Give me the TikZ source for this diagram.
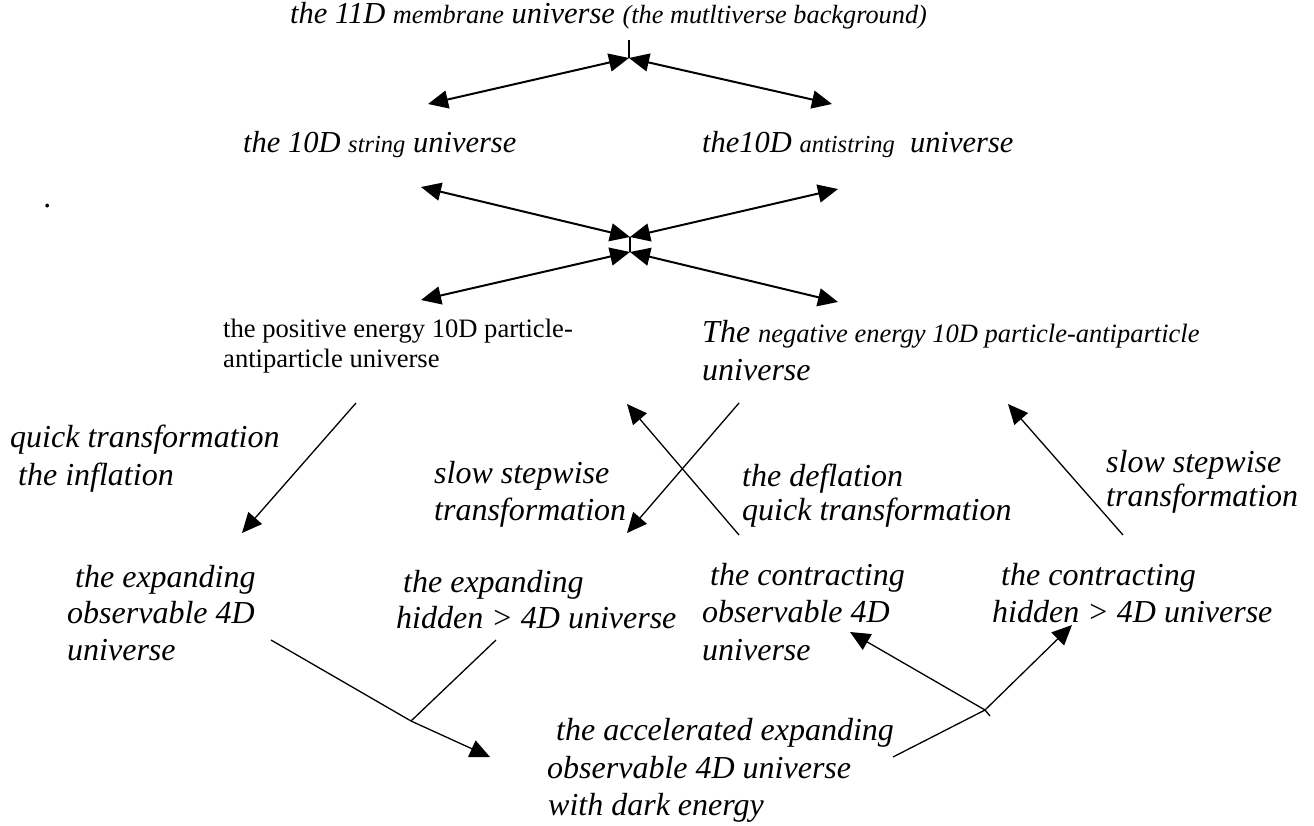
\documentclass[tikz,border=0pt]{standalone}
\usepackage{fontspec}
\setmainfont{Liberation Serif}
\usetikzlibrary{arrows.meta}
\newcommand{\Lg}{\fontsize{30.5}{34}\selectfont}
\newcommand{\Sm}{\fontsize{24.5}{28}\selectfont}
\newcommand{\Tm}{\fontsize{26.3}{30}\selectfont}
\newcommand{\Ng}{\fontsize{26.5}{30}\selectfont}
\begin{document}
\begin{tikzpicture}[x=1pt,y=-1pt,
  lab/.style={anchor=base west,inner sep=0pt,font=\itshape\fontsize{32}{38}\selectfont},
  rlab/.style={anchor=base west,inner sep=0pt,font=\fontsize{26.6}{30}\selectfont},
  tip/.style={-{Triangle[length=20pt,width=18pt]}},
  dbl/.style={{Triangle[length=20pt,width=18pt]}-{Triangle[length=20pt,width=18pt]},line width=2pt},
  arr/.style={tip,line width=1.3pt},
  ln/.style={line width=1.3pt}]
\useasboundingbox (0,0) rectangle (1314,825);
% texts
\node[lab,font=\itshape\Lg] (t11) at (290,23) {the 11D {\Tm membrane} universe {\Tm (the mutltiverse background)}};
\node[lab,font=\itshape\Lg] (tstr) at (243,152) {the 10D {\Sm string} universe};
\node[lab,font=\itshape\Lg] (tast) at (702,152) {the10D {\Sm antistring}\ \ universe};
\node[lab] (dot) at (44,207) {.};
\node[rlab] (pos1) at (223,337) {the positive energy 10D particle-};
\node[rlab] (pos2) at (223,367) {antiparticle universe};
\node[lab] (neg1) at (702,342) {The {\Ng negative energy 10D particle-antiparticle}};
\node[lab] (neg2) at (702,380) {universe};
\node[lab] (q1) at (10,447) {quick transformation};
\node[lab] (q2) at (10,485) {\ the inflation};
\node[lab] (s1) at (434,483) {slow stepwise};
\node[lab] (s2) at (434,520) {transformation};
\node[lab] (d1) at (742,486) {the deflation};
\node[lab] (d2) at (742,520) {quick transformation};
\node[lab] (r1) at (1106,472) {slow stepwise};
\node[lab] (r2) at (1106,506) {transformation};
\node[lab] (e1) at (67,587) {\ the expanding};
\node[lab] (e2) at (67,623) {observable 4D};
\node[lab] (e3) at (67,660) {universe};
\node[lab] (h1) at (403,592) {the expanding};
\node[lab] (h2) at (396,628) {hidden > 4D universe};
\node[lab] (c1) at (702,585) {\ the contracting};
\node[lab] (c2) at (702,622) {observable 4D};
\node[lab] (c3) at (702,660) {universe};
\node[lab] (k1) at (1001,585) {the contracting};
\node[lab] (k2) at (992,622) {hidden > 4D universe};
\node[lab] (a1) at (548,740) {\ the accelerated expanding};
\node[lab] (a2) at (547,778) {observable 4D universe};
\node[lab] (a3) at (548,815) {with dark energy};
% top junction
\coordinate (j1) at (629,58);
\coordinate (j1t) at (629,40);
\coordinate (j1l) at (428,104);
\coordinate (j1r) at (832,104);
\draw[ln] (j1t) -- (j1);
\draw[dbl] (j1l) -- (j1);
\draw[dbl] (j1) -- (j1r);
% middle junction
\coordinate (j2u) at (630,237);
\coordinate (j2d) at (630,252);
\draw[ln] (j2u) -- (j2d);
\coordinate (mul) at (421,187);
\coordinate (mur) at (838,189);
\coordinate (mdl) at (421,300);
\coordinate (mdr) at (838,302);
\draw[dbl] (mul) -- (j2u);
\draw[dbl] (mur) -- (j2u);
\draw[dbl] (mdl) -- (j2d);
\draw[dbl] (mdr) -- (j2d);
% transformations
\coordinate (i0) at (356,403);
\coordinate (i1) at (242,533);
\draw[arr] (i0) -- (i1);
\coordinate (s0) at (739,403);
\coordinate (s1e) at (627,533);
\draw[arr] (s0) -- (s1e);
\coordinate (d0) at (739,535);
\coordinate (d1e) at (627,404);
\draw[arr] (d0) -- (d1e);
\coordinate (r0) at (1123,535);
\coordinate (r1e) at (1008,404);
\draw[arr] (r0) -- (r1e);
% bottom left merge
\coordinate (bl) at (271,640);
\coordinate (bh) at (496,640);
\coordinate (bj) at (411,721);
\coordinate (bt) at (490,757);
\draw[ln] (bl) -- (bj);
\draw[ln] (bh) -- (bj);
\draw[arr] (bj) -- (bt);
% bottom right split
\coordinate (ra) at (893,757);
\coordinate (rj) at (985,710);
\coordinate (rjt) at (990,716);
\coordinate (rc) at (850,632);
\coordinate (rh) at (1072,625);
\draw[ln] (ra) -- (rj);
\draw[ln] (rj) -- (rjt);
\draw[arr] (rj) -- (rc);
\draw[arr] (rj) -- (rh);
\end{tikzpicture}
\end{document}
